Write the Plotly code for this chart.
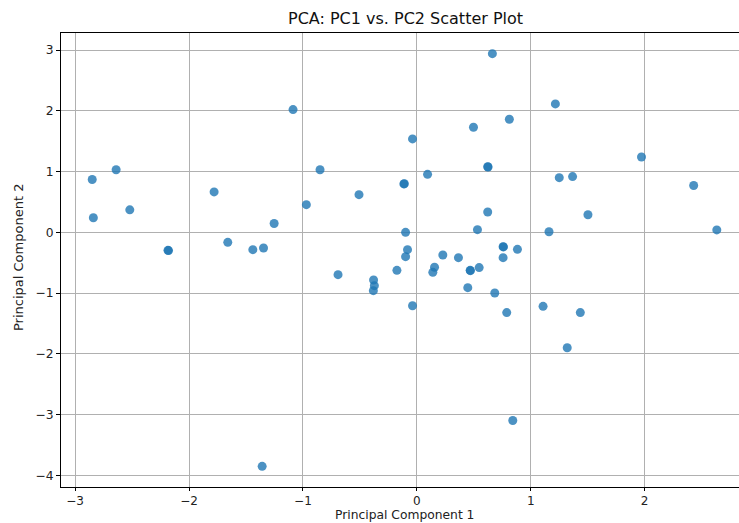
import plotly.graph_objects as go

pc1 = [-1.087, -2.85, -2.64, -2.84, -2.52, -1.78, -0.97, -1.253, -1.66, -2.185,
       -2.18, -1.44, -1.346, 0.663, 0.812, 0.497, -0.038, -0.85, 0.094, -0.114,
       -0.11, 0.622, 0.625, -0.508, 0.622, 0.532, -0.099, 1.16, 0.757, 0.76,
       0.883, -0.082, -0.099, 0.228, 0.365, 0.757, 0.547, 0.468, 0.47, 0.155,
       0.14, -0.175, -0.692, -0.38, -0.373, -0.382, 0.447, 0.684, -0.038, 0.789,
       1.108, 0.842, 2.633, 1.435, 1.32, 1.216, 1.972, 1.25, 1.367, 2.43,
       1.502, -1.358]
pc2 = [2.02, 0.87, 1.03, 0.24, 0.37, 0.665, 0.456, 0.145, -0.165, -0.296,
       -0.30, -0.285, -0.257, 2.94, 1.86, 1.73, 1.537, 1.03, 0.955, 0.797,
       0.80, 1.08, 1.075, 0.62, 0.335, 0.044, 0.0, 0.01, -0.235, -0.24,
       -0.28, -0.285, -0.4, -0.373, -0.417, -0.417, -0.58, -0.625, -0.63, -0.575,
       -0.658, -0.625, -0.696, -0.784, -0.877, -0.96, -0.91, -0.998, -1.207, -1.32,
       -1.218, -3.095, 0.04, -1.32, -1.898, 2.113, 1.24, 0.9, 0.917, 0.77,
       0.29, -3.85]

x_ticks = [-3, -2, -1, 0, 1, 2]
x_tick_labels = ["−3", "−2", "−1", "0", "1", "2"]
y_ticks = [-4, -3, -2, -1, 0, 1, 2, 3]
y_tick_labels = ["−4", "−3", "−2", "−1", "0", "1", "2", "3"]

title_text = "PCA: PC1 vs. PC2 Scatter Plot"
x_label = "Principal Component 1"
y_label = "Principal Component 2"

W, H = 739, 523
L, T, B = 61, 33, 36
FONT = "DejaVu Sans"
PW, PH = W - L, H - T - B

fig = go.Figure()
fig.add_trace(go.Scatter(
    x=pc1, y=pc2, mode="markers",
    marker=dict(size=9, color="#1f77b4", opacity=0.8, line=dict(width=0)),
    hoverinfo="x+y", showlegend=False,
))

axis_common = dict(
    showgrid=True, gridcolor="#b0b0b0", gridwidth=1,
    showline=True, linecolor="black", linewidth=1,
    ticks="outside", tickwidth=1, tickcolor="black",
    zeroline=False, automargin=False,
)

fig.update_layout(
    width=W, height=H,
    margin=dict(l=L, r=0, t=T, b=B, autoexpand=False),
    paper_bgcolor="white", plot_bgcolor="white",
    font=dict(family=FONT, color="black"),
    xaxis=dict(range=[-3.124, 2.828], tickvals=x_ticks, ticktext=x_tick_labels,
               mirror=True, ticklen=3,
               tickfont=dict(family=FONT, size=12, color="#222"), **axis_common),
    yaxis=dict(range=[-4.19, 3.28], tickvals=y_ticks, ticktext=y_tick_labels,
               mirror=False, ticklen=4,
               tickfont=dict(family=FONT, size=12.3, color="#222"), **axis_common),
    annotations=[
        dict(text=title_text, xref="paper", yref="paper", x=(405 - L) / PW,
             y=(H - 19 - B) / PH, xanchor="center", yanchor="middle",
             showarrow=False, font=dict(family=FONT, size=16, color="#111")),
        dict(text=x_label, xref="paper", yref="paper", x=(404.5 - L) / PW,
             y=-B / PH, xanchor="center", yanchor="bottom", borderpad=0,
             showarrow=False, font=dict(family=FONT, size=12.3, color="#222")),
        dict(text=y_label, xref="paper", yref="paper", x=-(L - 18) / PW,
             y=(H - 257 - B) / PH, xanchor="center", yanchor="middle", textangle=-90,
             showarrow=False, font=dict(family=FONT, size=13, color="#222")),
    ],
)

fig.write_html("out.html", config={"displayModeBar": False},
               post_script="document.body.style.margin='0';document.body.style.overflow='hidden';")
